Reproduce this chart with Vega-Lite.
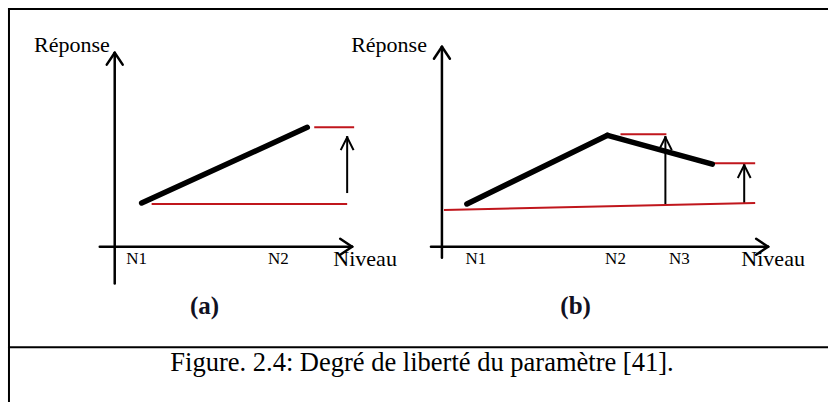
{
  "$schema": "https://vega.github.io/schema/vega-lite/v6.json",
  "width": 829,
  "height": 403,
  "autosize": {"type": "fit", "contains": "padding"},
  "padding": 0,
  "background": "white",
  "config": {"view": {"stroke": null}},
  "datasets": {
    "segs": [
      {"kind": "frame", "x": 9, "y": 9, "x2": 829, "y2": 9},
      {"kind": "frame", "x": 9, "y": 9, "x2": 9, "y2": 403},
      {"kind": "frame", "x": 9, "y": 349, "x2": 829, "y2": 349},
      {"kind": "axis", "x": 115, "y": 285, "x2": 115, "y2": 53},
      {"kind": "axis", "x": 107, "y": 65, "x2": 115, "y2": 53},
      {"kind": "axis", "x": 123, "y": 65, "x2": 115, "y2": 53},
      {"kind": "axis", "x": 100, "y": 248, "x2": 353, "y2": 248},
      {"kind": "axis", "x": 341, "y": 240, "x2": 353, "y2": 248},
      {"kind": "axis", "x": 341, "y": 256, "x2": 353, "y2": 248},
      {"kind": "axis", "x": 443, "y": 259, "x2": 443, "y2": 47},
      {"kind": "axis", "x": 435, "y": 59, "x2": 443, "y2": 47},
      {"kind": "axis", "x": 451, "y": 59, "x2": 443, "y2": 47},
      {"kind": "axis", "x": 432, "y": 248, "x2": 770, "y2": 248},
      {"kind": "axis", "x": 758, "y": 240, "x2": 770, "y2": 248},
      {"kind": "axis", "x": 758, "y": 256, "x2": 770, "y2": 248},
      {"kind": "red", "x": 152, "y": 205, "x2": 348, "y2": 205},
      {"kind": "red", "x": 315, "y": 128, "x2": 355, "y2": 128},
      {"kind": "red", "x": 445, "y": 211, "x2": 757, "y2": 204},
      {"kind": "red", "x": 622, "y": 135, "x2": 668, "y2": 135},
      {"kind": "red", "x": 715, "y": 164, "x2": 757, "y2": 164},
      {"kind": "arrow", "x": 348, "y": 193, "x2": 348, "y2": 138},
      {"kind": "arrow", "x": 342, "y": 150, "x2": 348, "y2": 138},
      {"kind": "arrow", "x": 354, "y": 150, "x2": 348, "y2": 138},
      {"kind": "arrow", "x": 667, "y": 204, "x2": 667, "y2": 138},
      {"kind": "arrow", "x": 661, "y": 150, "x2": 667, "y2": 138},
      {"kind": "arrow", "x": 673, "y": 150, "x2": 667, "y2": 138},
      {"kind": "arrow", "x": 746, "y": 204, "x2": 746, "y2": 166},
      {"kind": "arrow", "x": 740, "y": 178, "x2": 746, "y2": 166},
      {"kind": "arrow", "x": 752, "y": 178, "x2": 746, "y2": 166},
      {"kind": "black", "x": 142, "y": 204, "x2": 308, "y2": 128},
      {"kind": "black", "x": 468, "y": 205, "x2": 609, "y2": 136},
      {"kind": "black", "x": 609, "y": 136, "x2": 714, "y2": 165}
    ],
    "labels": [
      {"kind": "big", "x": 72, "y": 45, "label": "Réponse"},
      {"kind": "big", "x": 390, "y": 45, "label": "Réponse"},
      {"kind": "big", "x": 366, "y": 260, "label": "Niveau"},
      {"kind": "big", "x": 775, "y": 260, "label": "Niveau"},
      {"kind": "small", "x": 137, "y": 260, "label": "N1"},
      {"kind": "small", "x": 279, "y": 260, "label": "N2"},
      {"kind": "small", "x": 477, "y": 260, "label": "N1"},
      {"kind": "small", "x": 617, "y": 260, "label": "N2"},
      {"kind": "small", "x": 681, "y": 260, "label": "N3"},
      {"kind": "panel", "x": 205, "y": 308, "label": "(a)"},
      {"kind": "panel", "x": 577, "y": 308, "label": "(b)"},
      {"kind": "caption", "x": 423, "y": 365, "label": "Figure. 2.4: Degré de liberté du paramètre [41]."}
    ]
  },
  "layer": [
    {
      "data": {"name": "segs"},
      "transform": [{"filter": "datum.kind === 'frame' || datum.kind === 'arrow'"}],
      "mark": {"type": "rule", "strokeCap": "square", "strokeWidth": 2, "color": "#000000"},
      "encoding": {
        "x": {"field": "x", "type": "quantitative", "scale": {"domain": [0, 829], "nice": false, "zero": false}, "axis": null},
        "y": {"field": "y", "type": "quantitative", "scale": {"domain": [0, 403], "nice": false, "zero": false, "reverse": true}, "axis": null},
        "x2": {"field": "x2"},
        "y2": {"field": "y2"}
      }
    },
    {
      "data": {"name": "segs"},
      "transform": [{"filter": "datum.kind === 'axis'"}],
      "mark": {"type": "rule", "strokeCap": "round", "strokeWidth": 2.5, "color": "#000000"},
      "encoding": {
        "x": {"field": "x", "type": "quantitative", "scale": {"domain": [0, 829], "nice": false, "zero": false}, "axis": null},
        "y": {"field": "y", "type": "quantitative", "scale": {"domain": [0, 403], "nice": false, "zero": false, "reverse": true}, "axis": null},
        "x2": {"field": "x2"},
        "y2": {"field": "y2"}
      }
    },
    {
      "data": {"name": "segs"},
      "transform": [{"filter": "datum.kind === 'red'"}],
      "mark": {"type": "rule", "strokeCap": "butt", "strokeWidth": 2, "color": "#c0161c"},
      "encoding": {
        "x": {"field": "x", "type": "quantitative", "scale": {"domain": [0, 829], "nice": false, "zero": false}, "axis": null},
        "y": {"field": "y", "type": "quantitative", "scale": {"domain": [0, 403], "nice": false, "zero": false, "reverse": true}, "axis": null},
        "x2": {"field": "x2"},
        "y2": {"field": "y2"}
      }
    },
    {
      "data": {"name": "segs"},
      "transform": [{"filter": "datum.kind === 'black'"}],
      "mark": {"type": "rule", "strokeCap": "round", "strokeWidth": 5.5, "color": "#000000"},
      "encoding": {
        "x": {"field": "x", "type": "quantitative", "scale": {"domain": [0, 829], "nice": false, "zero": false}, "axis": null},
        "y": {"field": "y", "type": "quantitative", "scale": {"domain": [0, 403], "nice": false, "zero": false, "reverse": true}, "axis": null},
        "x2": {"field": "x2"},
        "y2": {"field": "y2"}
      }
    },
    {
      "data": {"name": "labels"},
      "transform": [{"filter": "datum.kind === 'big'"}],
      "mark": {"type": "text", "font": "Liberation Serif", "align": "center", "baseline": "middle", "fontSize": 22, "color": "#000000"},
      "encoding": {
        "x": {"field": "x", "type": "quantitative", "scale": {"domain": [0, 829], "nice": false, "zero": false}, "axis": null},
        "y": {"field": "y", "type": "quantitative", "scale": {"domain": [0, 403], "nice": false, "zero": false, "reverse": true}, "axis": null},
        "text": {"field": "label"}
      }
    },
    {
      "data": {"name": "labels"},
      "transform": [{"filter": "datum.kind === 'caption'"}],
      "mark": {"type": "text", "font": "Liberation Serif", "align": "center", "baseline": "middle", "fontSize": 26.5, "color": "#000000"},
      "encoding": {
        "x": {"field": "x", "type": "quantitative", "scale": {"domain": [0, 829], "nice": false, "zero": false}, "axis": null},
        "y": {"field": "y", "type": "quantitative", "scale": {"domain": [0, 403], "nice": false, "zero": false, "reverse": true}, "axis": null},
        "text": {"field": "label"}
      }
    },
    {
      "data": {"name": "labels"},
      "transform": [{"filter": "datum.kind === 'small'"}],
      "mark": {"type": "text", "font": "Liberation Serif", "align": "center", "baseline": "middle", "fontSize": 17, "color": "#000000"},
      "encoding": {
        "x": {"field": "x", "type": "quantitative", "scale": {"domain": [0, 829], "nice": false, "zero": false}, "axis": null},
        "y": {"field": "y", "type": "quantitative", "scale": {"domain": [0, 403], "nice": false, "zero": false, "reverse": true}, "axis": null},
        "text": {"field": "label"}
      }
    },
    {
      "data": {"name": "labels"},
      "transform": [{"filter": "datum.kind === 'panel'"}],
      "mark": {"type": "text", "font": "Liberation Serif", "align": "center", "baseline": "middle", "fontSize": 25, "fontWeight": "bold", "color": "#111122"},
      "encoding": {
        "x": {"field": "x", "type": "quantitative", "scale": {"domain": [0, 829], "nice": false, "zero": false}, "axis": null},
        "y": {"field": "y", "type": "quantitative", "scale": {"domain": [0, 403], "nice": false, "zero": false, "reverse": true}, "axis": null},
        "text": {"field": "label"}
      }
    }
  ]
}
